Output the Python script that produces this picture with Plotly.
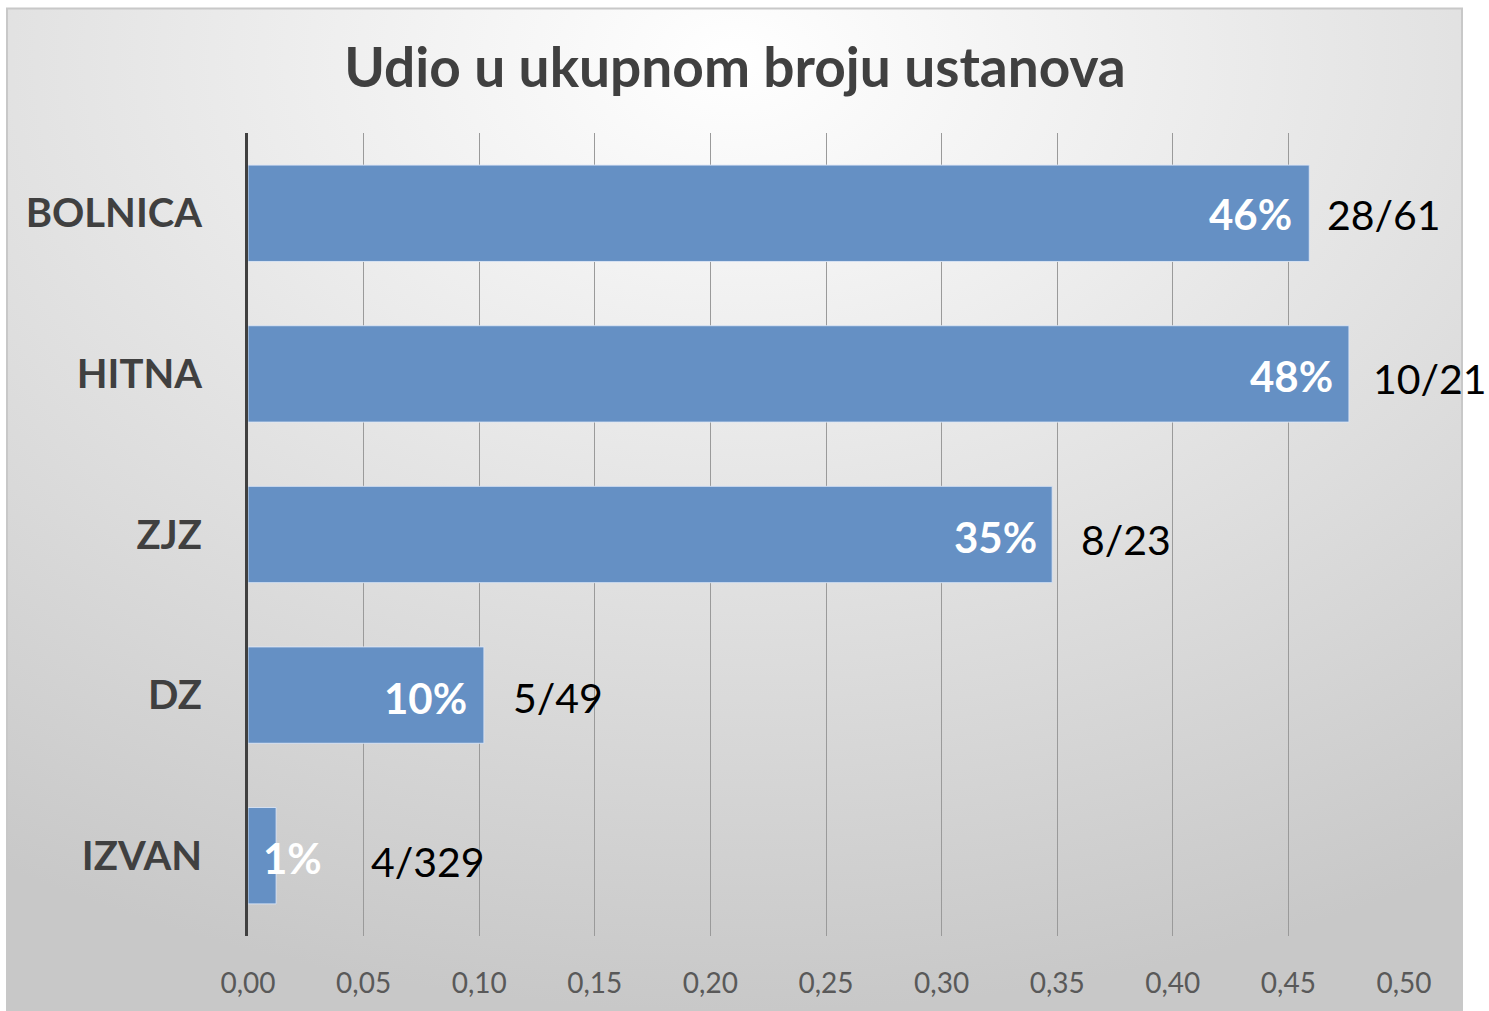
import base64
import plotly.graph_objects as go

# ---- data ----
categories = ["BOLNICA", "HITNA", "ZJZ", "DZ", "IZVAN"]
numerators = [28, 10, 8, 5, 4]
denominators = [61, 21, 23, 49, 329]
x_tick_vals = [0.00, 0.05, 0.10, 0.15, 0.20, 0.25, 0.30, 0.35, 0.40, 0.45, 0.50]

values = [n / d for n, d in zip(numerators, denominators)]
pct_labels = [f"{round(v * 100):d}%" for v in values]
frac_labels = [f"{n}/{d}" for n, d in zip(numerators, denominators)]

# label placement tweaks (pixels)
frac_xshift = [16, 22, 27, 27, 93]
frac_yshift = [-1, -5, -5, -2, -6]
pct_xshift = [-15, -14, -13, -15, 48]
pct_yshift = [-1, -2, -2, -3, -2]

FONT = "Lato"
W, H = 1489, 1011
L, R, T, B = 248, 1489 - 1404, 133, 1011 - 940
PW, PH = W - L - R, H - T - B


def px_to_paper_x(px):
    return (px - L) / PW


def px_to_paper_y(py):
    return (H - B - py) / PH


fig = go.Figure()
fig.add_trace(go.Bar(
    y=categories,
    x=values,
    orientation="h",
    marker=dict(color="#6590c4", line=dict(color="rgba(220,230,245,0.9)", width=1)),
    width=0.6,
    hoverinfo="skip",
))

annotations = []
for i, cat in enumerate(categories):
    annotations.append(dict(
        x=values[i], y=cat, xref="x", yref="y", text=pct_labels[i],
        showarrow=False, xanchor="right", yanchor="middle",
        xshift=pct_xshift[i], yshift=pct_yshift[i],
        font=dict(family=FONT, size=42, color="white", weight="bold"),
    ))
    annotations.append(dict(
        x=values[i], y=cat, xref="x", yref="y", text=frac_labels[i],
        showarrow=False, xanchor="left", yanchor="middle",
        xshift=frac_xshift[i], yshift=frac_yshift[i],
        font=dict(family=FONT, size=41, color="black"),
    ))

# background radial gradient frame
svg = (
    '<svg xmlns="http://www.w3.org/2000/svg" width="1455" height="1003" viewBox="0 0 1455 1003" preserveAspectRatio="none">'
    '<defs><radialGradient id="g" cx="50%" cy="5%" r="95%" fx="50%" fy="5%">'
    '<stop offset="0%" stop-color="#ffffff"/>'
    '<stop offset="45%" stop-color="#e6e6e6"/>'
    '<stop offset="100%" stop-color="#c8c8c8"/>'
    '</radialGradient></defs>'
    '<rect x="0" y="0" width="1455" height="1003" fill="url(#g)"/></svg>'
)
src = "data:image/svg+xml;base64," + base64.b64encode(svg.encode()).decode()

fx0, fx1 = px_to_paper_x(7), px_to_paper_x(1462)
fy0, fy1 = px_to_paper_y(1016), px_to_paper_y(8)

fig.update_layout(
    width=W, height=H,
    margin=dict(l=L, r=R, t=T, b=B, pad=0),
    paper_bgcolor="white",
    plot_bgcolor="rgba(0,0,0,0)",
    separators=",.",
    showlegend=False,
    bargap=0.4,
    title=dict(
        text="Udio u ukupnom broju ustanova",
        x=735 / W, xanchor="center", xref="container",
        y=1 - 68 / H, yanchor="middle",
        font=dict(family=FONT, size=55, color="#404040", weight="bold"),
    ),
    images=[dict(
        source=src, xref="paper", yref="paper",
        x=fx0, y=fy1, sizex=fx1 - fx0, sizey=fy1 - fy0,
        xanchor="left", yanchor="top", sizing="stretch", layer="below",
    )],
    shapes=[dict(
        type="rect", xref="paper", yref="paper",
        x0=fx0, x1=fx1, y0=fy0, y1=fy1,
        line=dict(color="#c8c8c8", width=2), fillcolor="rgba(0,0,0,0)", layer="below",
    )],
    annotations=annotations,
    xaxis=dict(
        range=[0, 0.5],
        tickvals=x_tick_vals,
        tickformat=".2f",
        showgrid=True, gridcolor="#9a9a9a", gridwidth=1,
        zeroline=False, showline=False, ticks="",
        ticklabelstandoff=28,
        tickfont=dict(family=FONT, size=28, color="#595959"),
        fixedrange=True,
    ),
    yaxis=dict(
        categoryorder="array", categoryarray=categories[::-1],
        showline=True, linecolor="#404040", linewidth=3,
        showgrid=False, ticks="",
        ticklabelstandoff=35,
        tickfont=dict(family=FONT, size=40, color="#404040", weight="bold"),
        fixedrange=True,
    ),
)

fig.write_html(
    "out.html",
    config={"displayModeBar": False},
    post_script="document.body.style.margin='0';document.body.style.overflow='hidden';",
)
